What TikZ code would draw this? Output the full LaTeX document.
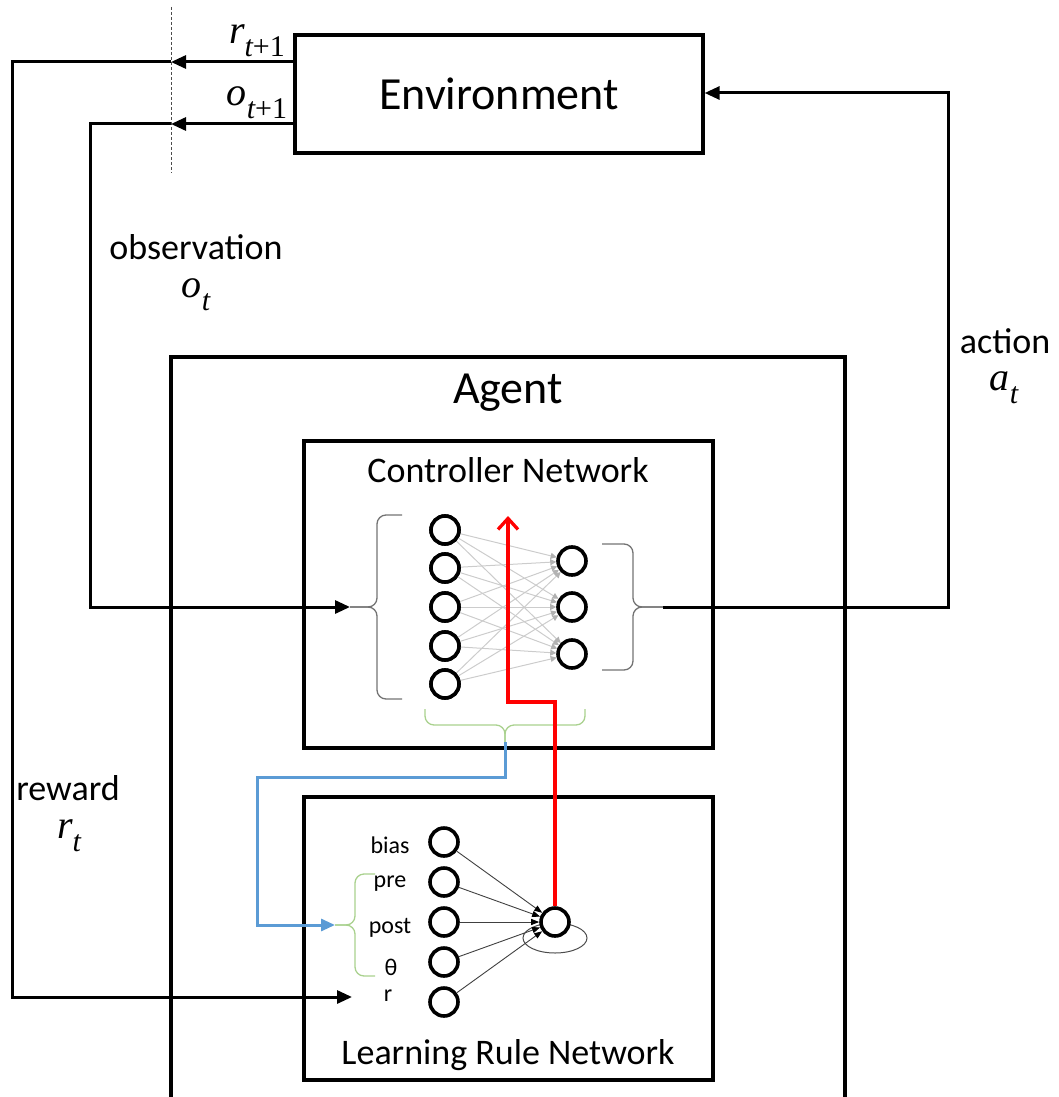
\documentclass[tikz,border=0pt]{standalone}
\usepackage{fontspec}
\setmainfont{Carlito}
\newfontfamily\varfont{Liberation Serif}
\usetikzlibrary{arrows.meta}
\definecolor{bracegreen}{HTML}{A9D18E}
\definecolor{linkblue}{HTML}{5B9BD5}
% a variable with a subscript, set in an italic serif
\newcommand{\vsub}[2]{{\varfont\itshape #1}\raisebox{-0.32em}{\fontsize{30}{34}\selectfont\varfont #2}}
\begin{document}
\begin{tikzpicture}[x=1pt,y=-1pt,
  box/.style={draw, line width=3.3pt, inner sep=0pt},
  mainline/.style={line width=3pt},
  arr/.style={mainline, -{Triangle[length=15pt,width=13pt]}},
  neuron/.style={circle, draw, line width=3.6pt, minimum size=28pt, inner sep=0pt, fill=white},
  bigtxt/.style={font=\fontsize{46}{54}\selectfont},
  midtxt/.style={font=\fontsize{36}{43}\selectfont},
  mathtxt/.style={font=\fontsize{40}{46}\selectfont, inner sep=0pt},
  smalltxt/.style={font=\fontsize{24}{29}\selectfont},
  graybrace/.style={draw=black!55, line width=1.3pt, rounded corners=9pt},
  greenbrace/.style={draw=bracegreen, line width=1.3pt, rounded corners=9pt},
  cedge/.style={draw=black!20, line width=1pt, -{Triangle[length=6pt,width=6pt,color=black!30]}},
  ledge/.style={draw=black!75, line width=0.9pt, -{Triangle[length=8pt,width=6pt,color=black]}},
]
\useasboundingbox (0,0) rectangle (1059,1097);

% ---------- boxes ----------
\node[box, bigtxt, minimum width=408pt, minimum height=118pt] (env) at (499,94) {Environment};
\draw[line width=3.3pt] (171,1100) -- (171,357) -- (845,357) -- (845,1100);
\node[bigtxt] (agentlbl) at (508,393) {Agent};
\node[box, minimum width=409pt, minimum height=307pt] (ctrl) at (508.5,594.5) {};
\node[midtxt] (ctrllbl) at (508,470) {Controller Network};
\node[box, minimum width=409pt, minimum height=283pt] (lrn) at (508.5,938.5) {};
\node[midtxt] (lrnlbl) at (508,1055) {Learning Rule Network};

% ---------- controller network ----------
\foreach \i/\y in {1/530,2/568,3/607,4/646,5/684}
  \node[neuron] (in\i) at (445,\y) {};
\foreach \j/\y in {1/561,2/607,3/654}
  \node[neuron] (out\j) at (572,\y) {};
\foreach \i in {1,...,5}
  \foreach \j in {1,2,3}
    \draw[cedge] (in\i) -- (out\j);
\foreach \i in {1,...,5}
  \node[neuron] at (in\i) {};

% braces around the controller layers
\coordinate (ctrlin) at (350,607);
\coordinate (ctrlout) at (663,607);
\draw[graybrace] (402,515) -- (377,515) -- (377,607) -- (ctrlin);
\draw[graybrace] (ctrlin) -- (377,607) -- (377,699) -- (402,699);
\draw[graybrace] (602,544) -- (633,544) -- (633,607) -- (ctrlout);
\draw[graybrace] (ctrlout) -- (633,607) -- (633,670) -- (602,670);
\coordinate (wtap) at (505,742);
\draw[greenbrace] (425,709) -- (425,725) -- (505,725) -- (wtap);
\draw[greenbrace] (wtap) -- (505,725) -- (585,725) -- (585,709);

% ---------- learning rule network ----------
\foreach \k/\y in {1/842,2/882,3/922,4/962,5/1002}
  \node[neuron] (lin\k) at (444,\y) {};
\draw[draw=black!70, line width=1pt] (555,938) ellipse [x radius=32pt, y radius=15pt];
\node[neuron] (lout) at (555,922) {};
\foreach \k in {1,...,5}
  \draw[ledge] (lin\k) -- (lout);
\node[smalltxt] (lbias) at (390,845) {bias};
\node[smalltxt] (lpre) at (390,884) {pre};
\node[smalltxt] (lpost) at (390,928) {post};
\node[smalltxt] (ltheta) at (391,967) {θ};
\node[smalltxt] (lr) at (388,996) {r};
\coordinate (lrnin) at (335,925);
\draw[greenbrace] (375,874) -- (355,874) -- (355,925) -- (lrnin);
\draw[greenbrace] (lrnin) -- (355,925) -- (355,976) -- (375,976);
\coordinate (rin) at (352,997);

% ---------- weight update paths ----------
\draw[draw=red, line width=3.3pt, -{Straight Barb[length=11pt,width=20pt]}]
  (lout.north) -- (555,702) -- (508,702) -- (508,516);
\draw[draw=linkblue, line width=3pt, -{Triangle[length=14pt,width=12pt]}]
  (wtap) -- (505,777) -- (257,777) -- (257,925) -- (lrnin);

% ---------- environment loop ----------
\draw[black!70, line width=0.8pt, dash pattern=on 3pt off 2pt] (171,7) -- (171,173);
\coordinate (rtap) at (171,62);
\coordinate (otap) at (171,124);
\draw[arr] (env.west |- rtap) -- (rtap);
\draw[arr] (rtap) -- (12,62) -- (12,997) -- (rin);
\draw[arr] (env.west |- otap) -- (otap);
\draw[arr] (otap) -- (90,124) -- (90,607) -- (ctrlin);
\draw[arr] (ctrlout) -- (948,607) -- (948,93) -- (env.east |- 0,93);

% ---------- labels ----------
\node[mathtxt] (lr1) at (257,41) {\vsub{r}{\itshape t\upshape +1}};
\node[mathtxt] (lo1) at (257,103) {\vsub{o}{\itshape t\upshape +1}};
\node[midtxt] (lobs) at (196,247) {observation};
\node[mathtxt] (lot) at (196,295) {\vsub{o}{\itshape t}};
\node[midtxt] (lact) at (1005,341) {action};
\node[mathtxt] (lat) at (1004,388) {\vsub{a}{\itshape t}};
\node[midtxt] (lrew) at (68,788) {reward};
\node[mathtxt] (lrt) at (69,836) {\vsub{r}{\itshape t}};
\end{tikzpicture}
\end{document}
